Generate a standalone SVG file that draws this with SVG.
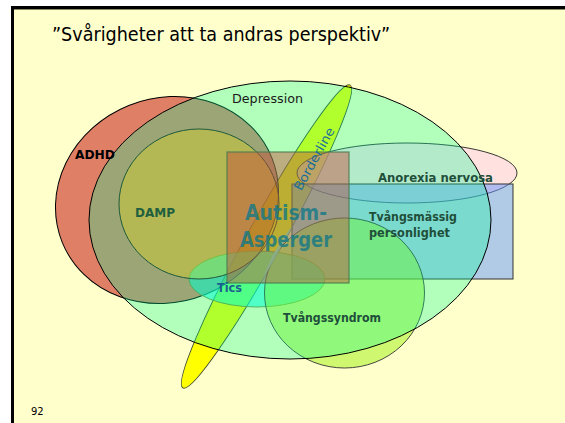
<svg xmlns="http://www.w3.org/2000/svg" width="565" height="423" viewBox="0 0 565 423">
<style>
.lbl{font-family:"DejaVu Sans","Liberation Sans",sans-serif;}
.b{font-weight:bold;}
.dk{fill:#1f4f3a;}
</style>
<defs>
<clipPath id="ticsClip"><ellipse cx="257" cy="279" rx="68" ry="28"/></clipPath>
</defs>
<rect x="0" y="0" width="565" height="423" fill="#ffffff"/>
<rect x="11" y="6" width="554" height="417" fill="#FFFFCC"/>
<rect x="11" y="6" width="554" height="3" fill="#000"/>
<rect x="11" y="9" width="554" height="1" fill="#8a8a60"/>
<rect x="11" y="6" width="3" height="417" fill="#000"/>
<text class="lbl" x="52" y="41" font-size="19" textLength="338" lengthAdjust="spacingAndGlyphs" fill="#000">”Svårigheter att ta andras perspektiv”</text>

<g id="borderline"><ellipse cx="266.5" cy="236.5" rx="173" ry="18" transform="rotate(-61.1 266.5 236.5)" fill="#FFFF00" stroke="#3a4a2a" stroke-width="0.9"/></g>
<g id="anorexia"><ellipse cx="407" cy="173" rx="110" ry="30" fill="rgb(255,200,240)" fill-opacity="0.55" stroke="#222" stroke-width="0.9"/></g>
<g id="tvangsmassig"><rect x="292" y="184" width="221" height="95" fill="rgb(100,150,255)" fill-opacity="0.5" stroke="#333" stroke-width="1"/></g>
<g id="adhd"><ellipse cx="167" cy="200" rx="113" ry="102" transform="rotate(-22 167 200)" fill="rgb(192,0,0)" fill-opacity="0.5" stroke="#000" stroke-width="1"/></g>
<g id="tics"><ellipse cx="257" cy="279" rx="68" ry="28" fill="rgb(0,255,230)" fill-opacity="0.55" stroke="#6a8a3a" stroke-width="0.9"/></g>
<g id="tvangssyndrom"><ellipse cx="344.5" cy="293" rx="80" ry="75" fill="rgb(160,240,20)" fill-opacity="0.5" stroke="#333" stroke-width="0.9"/></g>
<g id="depression"><ellipse cx="290" cy="220" rx="201" ry="139" fill="rgb(0,255,153)" fill-opacity="0.3" stroke="#000" stroke-width="1"/></g>
<ellipse cx="266.5" cy="236.5" rx="173" ry="18" transform="rotate(-61.1 266.5 236.5)" clip-path="url(#ticsClip)" fill="rgb(90,255,212)" fill-opacity="0.85"/>
<g id="damp"><ellipse cx="199" cy="204" rx="80" ry="75" fill="rgb(240,230,0)" fill-opacity="0.28" stroke="#1e5a3c" stroke-width="1"/></g>
<g id="autism"><rect x="227" y="152" width="122" height="131" fill="rgb(200,75,55)" fill-opacity="0.45" stroke="#4a7a50" stroke-opacity="0.8" stroke-width="1.3"/></g>

<g id="labels">
<text class="lbl" x="232" y="103" font-size="13" textLength="71" lengthAdjust="spacingAndGlyphs" fill="#1a1a1a">Depression</text>
<text class="lbl b" x="75" y="159" font-size="12.5" textLength="40" lengthAdjust="spacingAndGlyphs" fill="#000">ADHD</text>
<text class="lbl b" x="135" y="217" font-size="12" textLength="40" lengthAdjust="spacingAndGlyphs" fill="#1f5f3f">DAMP</text>
<text class="lbl b" x="245" y="220" font-size="22" textLength="82" lengthAdjust="spacingAndGlyphs" fill="#107888" fill-opacity="0.8">Autism-</text>
<text class="lbl b" x="240" y="247" font-size="22" textLength="92" lengthAdjust="spacingAndGlyphs" fill="#107888" fill-opacity="0.8">Asperger</text>
<text class="lbl" x="318" y="161" font-size="12.5" text-anchor="middle" textLength="70" lengthAdjust="spacingAndGlyphs" transform="rotate(-61 318 161)" fill="#1a6f9a">Borderline</text>
<text class="lbl b dk" x="378" y="182" font-size="11.5" textLength="115" lengthAdjust="spacingAndGlyphs">Anorexia nervosa</text>
<text class="lbl b dk" x="369" y="221" font-size="11.5" textLength="88" lengthAdjust="spacingAndGlyphs">Tvångsmässig</text>
<text class="lbl b dk" x="369" y="237" font-size="11.5" textLength="81" lengthAdjust="spacingAndGlyphs">personlighet</text>
<text class="lbl b" x="217" y="292" font-size="12" textLength="25" lengthAdjust="spacingAndGlyphs" fill="#1a5f8f">Tics</text>
<text class="lbl b dk" x="283" y="322" font-size="12" textLength="98" lengthAdjust="spacingAndGlyphs">Tvångssyndrom</text>
<text class="lbl" x="31" y="415" font-size="10" fill="#000">92</text>
</g>
</svg>
